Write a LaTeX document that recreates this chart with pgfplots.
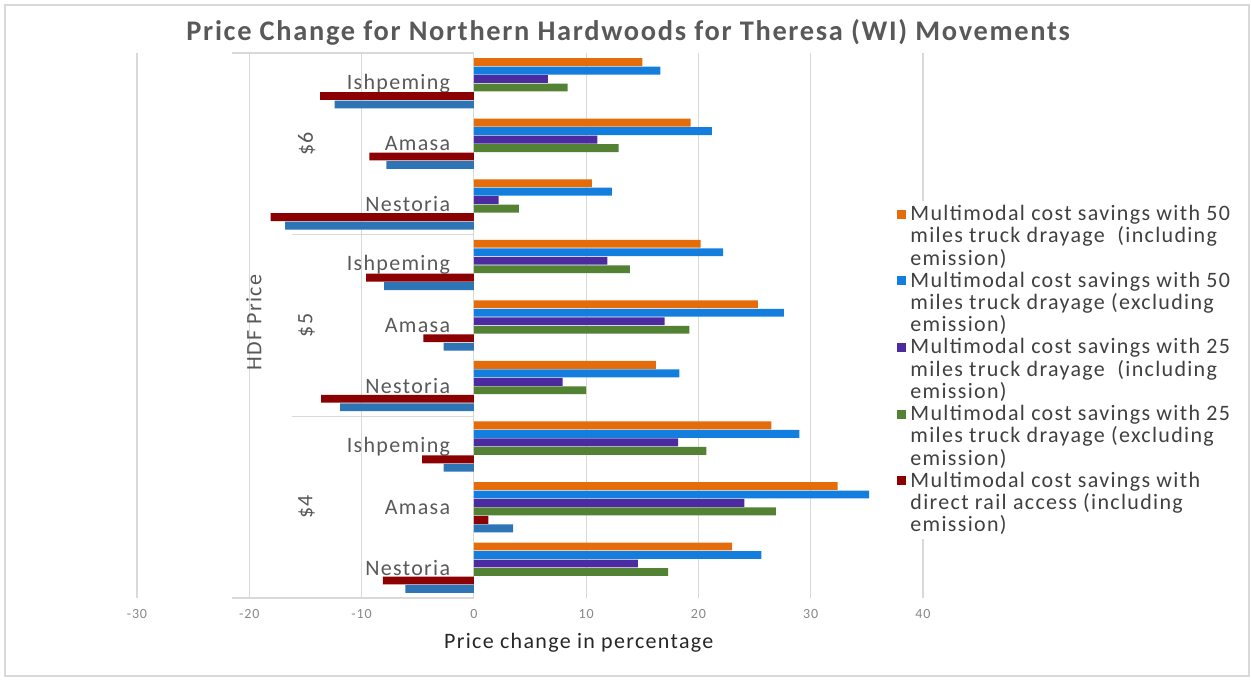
\documentclass[border=0pt]{standalone}
\usepackage{fontspec}
\setmainfont[LetterSpace=6]{Carlito}
\usepackage{pgfplots}
\usepackage{pgfplotstable}
\pgfplotsset{compat=1.18}

\definecolor{corange}{RGB}{228,108,10}
\definecolor{cblue}{RGB}{20,126,222}
\definecolor{cpurple}{RGB}{76,43,160}
\definecolor{cgreen}{RGB}{84,130,53}
\definecolor{cred}{RGB}{139,0,0}
\definecolor{csteel}{RGB}{46,117,182}
\definecolor{labelgray}{RGB}{89,89,89}
\definecolor{tickgray}{RGB}{135,135,135}
\definecolor{gridgray}{RGB}{217,217,217}

\pgfplotsset{sqleg/.style={legend image code/.code={\fill[##1] (0pt,9pt) rectangle (4.5pt,13.5pt);}}}

% rows bottom to top: $4 Nestoria ... $6 Ishpeming
\pgfplotstableread{
pos orng blu  purp grn   red   stl
0   23.0 25.6 14.6 17.3  -8.1  -6.1
1   32.4 35.2 24.1 26.9   1.3   3.5
2   26.5 29.0 18.2 20.7  -4.6  -2.7
3   16.2 18.3  7.9 10.0 -13.6 -11.9
4   25.3 27.6 17.0 19.2  -4.5  -2.7
5   20.2 22.2 11.9 13.9  -9.6  -8.0
6   10.5 12.3  2.2  4.0 -18.1 -16.8
7   19.3 21.2 11.0 12.9  -9.3  -7.8
8   15.0 16.6  6.6  8.35 -13.7 -12.4
}\pricedata

\begin{document}
\begin{tikzpicture}
\useasboundingbox (0,0) rectangle (625.5pt,339.5pt);
\draw[gray!30, line width=0.6pt] (2.5pt,1.5pt) rectangle (624.5pt,337pt);
\begin{axis}[
    at={(68.5pt,40.5pt)}, anchor=south west,
    scale only axis, width=393pt, height=272.5pt,
    xbar, bar width=0.13,
    xmin=-30, xmax=40, ymin=-0.5, ymax=8.5,
    xtick={-30,-20,...,40}, ytick={0,...,8},
    yticklabels={Nestoria,Amasa,Ishpeming,Nestoria,Amasa,Ishpeming,Nestoria,Amasa,Ishpeming},
    yticklabel style={anchor=east, inner sep=0pt, xshift=161pt, font=\fontsize{11}{13}\selectfont, text=labelgray},
    /pgf/number format/assume math mode=true,
    xticklabel style={font=\fontsize{7}{8}\selectfont, text=tickgray, yshift=-2pt},
    xmajorgrids, grid style={draw=gridgray, line width=0.6pt},
    axis line style={draw=none}, tick style={draw=none},
    clip=false,
    title={Price Change for Northern Hardwoods for Theresa (WI) Movements},
    title style={at={(axis description cs:0.625,1)}, anchor=center, yshift=4.5pt,
        font=\fontsize{14.2}{16}\selectfont\bfseries, text=labelgray},
    xlabel={Price change in percentage},
    xlabel style={at={(axis description cs:0.562,0)}, anchor=center, yshift=-22.5pt,
        font=\fontsize{11}{13}\selectfont, text=black!85},
    legend cell align=left,
    legend style={at={(0.967,0.729)}, anchor=north west, draw=none, fill=white,
        inner sep=0pt, row sep=-2.2pt, cells={align=left},
        font=\fontsize{11}{11.2}\selectfont, text=black!75},
]
\addplot[fill=corange, draw=none, bar shift=0.35, sqleg] table[x=orng, y=pos]{\pricedata};
\addlegendentry{Multimodal cost savings with 50\\miles truck drayage\ \ (including\\emission)}
\addplot[fill=cblue, draw=none, bar shift=0.21, sqleg] table[x=blu, y=pos]{\pricedata};
\addlegendentry{Multimodal cost savings with 50\\miles truck drayage (excluding\\emission)}
\addplot[fill=cpurple, draw=none, bar shift=0.07, sqleg] table[x=purp, y=pos]{\pricedata};
\addlegendentry{Multimodal cost savings with 25\\miles truck drayage\ \ (including\\emission)}
\addplot[fill=cgreen, draw=none, bar shift=-0.07, sqleg] table[x=grn, y=pos]{\pricedata};
\addlegendentry{Multimodal cost savings with 25\\miles truck drayage (excluding\\emission)}
\addplot[fill=cred, draw=none, bar shift=-0.21, sqleg] table[x=red, y=pos]{\pricedata};
\addlegendentry{Multimodal cost savings with\\direct rail access (including\\emission)}
\addplot[fill=csteel, draw=none, bar shift=-0.35, forget plot] table[x=stl, y=pos]{\pricedata};

% multi-level category axis frame
\draw[gridgray, line width=0.6pt] (axis cs:-21.5,8.5) -- (axis cs:0,8.5);
\draw[gridgray, line width=0.6pt] (axis cs:-21.5,-0.5) -- (axis cs:0,-0.5);
\draw[gridgray, line width=0.6pt] (axis cs:-16.2,5.5) -- (axis cs:0,5.5);
\draw[gridgray, line width=0.6pt] (axis cs:-16.2,2.5) -- (axis cs:0,2.5);
\node[rotate=90, font=\fontsize{11}{13}\selectfont, text=labelgray] at (axis cs:-14.9,7) {\$6};
\node[rotate=90, font=\fontsize{11}{13}\selectfont, text=labelgray] at (axis cs:-14.9,4) {\$5};
\node[rotate=90, font=\fontsize{11}{13}\selectfont, text=labelgray] at (axis cs:-14.9,1) {\$4};
\node[rotate=90, font=\fontsize{11}{12}\selectfont, text=labelgray] at (axis cs:-19.6,4.05) {HDF Price};
\end{axis}
\end{tikzpicture}
\end{document}
